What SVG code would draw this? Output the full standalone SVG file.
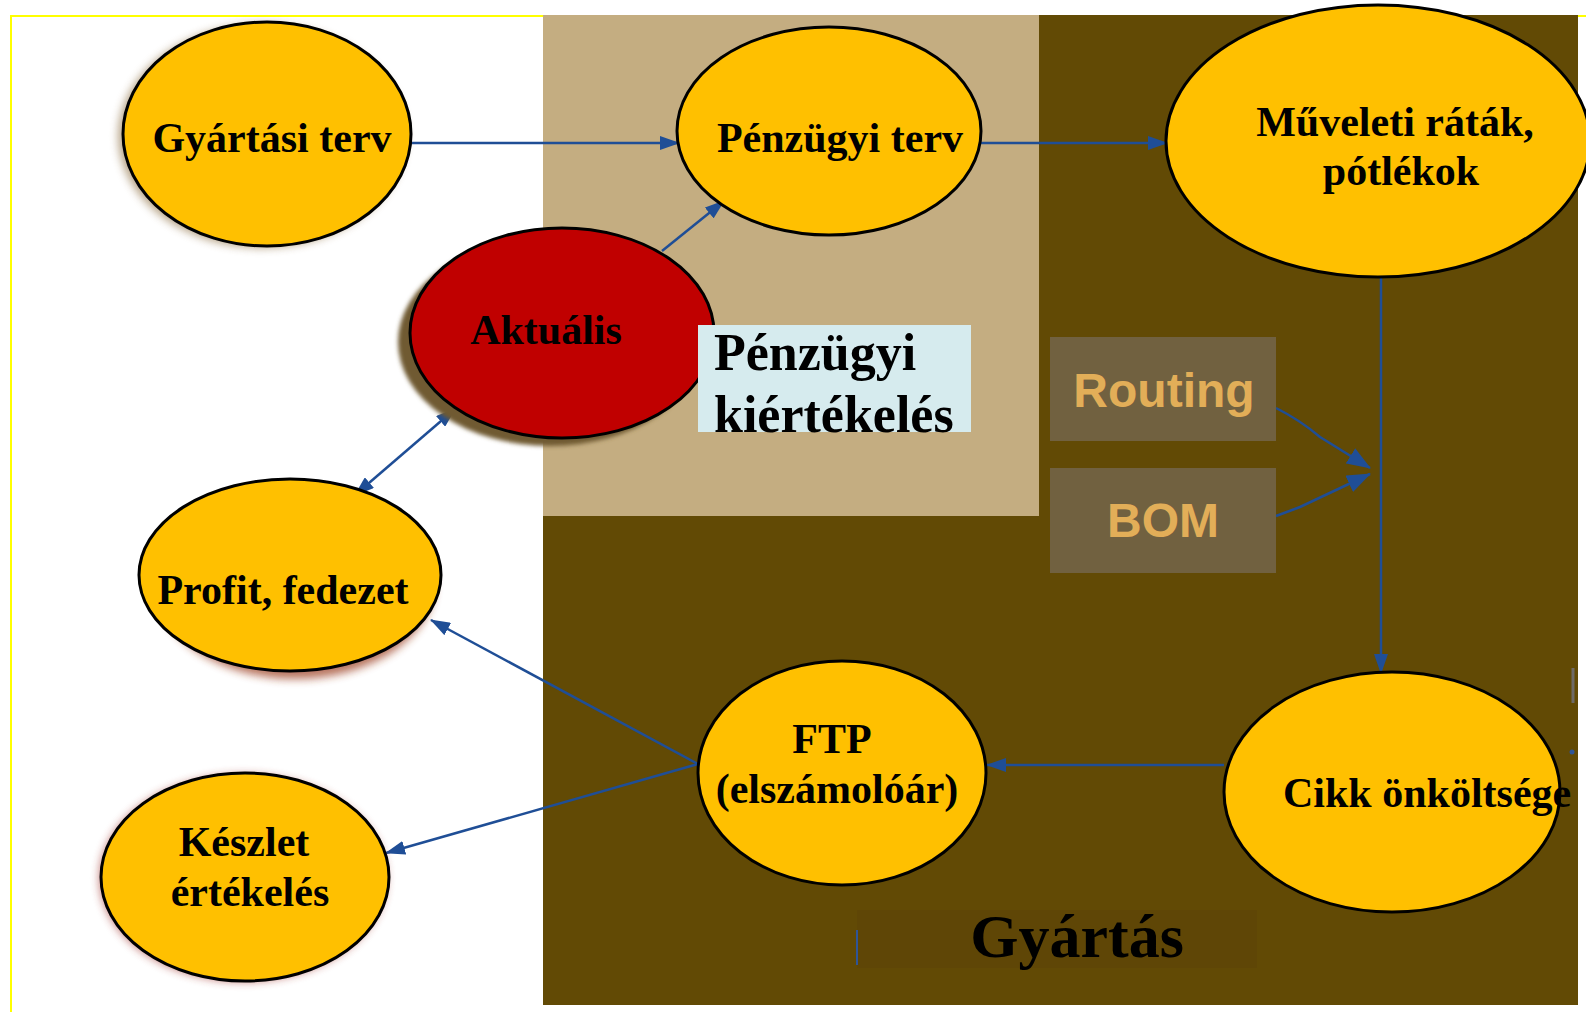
<svg xmlns="http://www.w3.org/2000/svg" width="1586" height="1012" viewBox="0 0 1586 1012">
<style>
.node{fill:#FFC000;stroke:#000;stroke-width:3}
.lbl{font-family:"Liberation Serif","Times New Roman",serif;font-weight:bold;font-size:42px;fill:#000;text-anchor:middle}
.con{fill:none;stroke:#1F4E96;stroke-width:2.5}
.box{fill:#716140}
.boxt{font-family:"Liberation Sans",Arial,sans-serif;font-weight:bold;font-size:48px;fill:#E2AE58;text-anchor:middle}
</style>
<defs>
<marker id="ah" viewBox="0 0 20 14" refX="19" refY="7" markerWidth="20" markerHeight="14" markerUnits="userSpaceOnUse" orient="auto-start-reverse">
<path d="M0,0 L20,7 L0,14 Z" fill="#1F4E96"/>
</marker>
<marker id="ahb" viewBox="0 0 24 18" refX="23" refY="9" markerWidth="24" markerHeight="18" markerUnits="userSpaceOnUse" orient="auto">
<path d="M0,0 L24,9 L0,18 Z" fill="#1F4E96"/>
</marker>
<filter id="blur" x="-20%" y="-20%" width="140%" height="140%"><feGaussianBlur stdDeviation="4"/></filter>
<filter id="blur2" x="-20%" y="-20%" width="140%" height="140%"><feGaussianBlur stdDeviation="2"/></filter>
</defs>
<rect x="0" y="0" width="1586" height="1012" fill="#fff"/>
<rect x="11" y="16" width="1600" height="1020" fill="none" stroke="#FFFF00" stroke-width="2"/>
<g id="background">
<rect x="543" y="15" width="1035" height="990" fill="#624A05"/>
<rect x="543" y="15" width="496" height="501" fill="#C4AD81"/>
<rect x="857" y="910" width="400" height="58" fill="#5F4606"/>
<line x1="857" y1="930" x2="857" y2="965" stroke="#2F5597" stroke-width="2"/>
<line x1="1573" y1="668" x2="1573" y2="703" stroke="#6F6A66" stroke-width="3"/>
<circle cx="1572" cy="752" r="2.5" fill="#2F5597"/>
</g>
<g id="connectors">
<line class="con" x1="411" y1="143" x2="679" y2="143" marker-end="url(#ah)"/>
<line class="con" x1="981" y1="143" x2="1167" y2="143" marker-end="url(#ah)"/>
<line class="con" x1="662" y1="251" x2="724" y2="201" marker-end="url(#ah)"/>
<line class="con" x1="355" y1="495" x2="455" y2="409" marker-start="url(#ah)" marker-end="url(#ah)"/>
<line class="con" x1="698" y1="764" x2="431" y2="620" marker-end="url(#ah)"/>
<line class="con" x1="698" y1="764" x2="386" y2="853" marker-end="url(#ah)"/>
<line class="con" x1="1381" y1="277" x2="1381" y2="673" marker-end="url(#ah)"/>
<line class="con" x1="1224" y1="765" x2="987" y2="765" marker-end="url(#ah)"/>
<path class="con" d="M1276,408 Q1300,420 1320,437 L1370,468" marker-end="url(#ahb)"/>
<path class="con" d="M1276,516 L1300,507 L1370,474" marker-end="url(#ahb)"/>
</g>
<g id="gyartasi-terv">
<ellipse cx="262" cy="136" rx="144" ry="112" fill="#8A6A3A" opacity="0.6" filter="url(#blur)"/>
<ellipse class="node" cx="267" cy="134" rx="144" ry="112"/>
<text class="lbl" x="272" y="152">Gyártási terv</text>
</g>
<g id="penzugyi-terv">
<ellipse class="node" cx="829" cy="131" rx="152" ry="104"/>
<text class="lbl" x="840" y="152">Pénzügyi terv</text>
</g>
<g id="muveleti-ratak">
<ellipse class="node" cx="1378" cy="141" rx="212" ry="136"/>
<text class="lbl" x="1395" y="136">Műveleti ráták,</text>
<text class="lbl" x="1401" y="185">pótlékok</text>
</g>
<g id="aktualis">
<ellipse cx="550" cy="342" rx="152" ry="104" fill="#6F5A32" filter="url(#blur2)"/>
<ellipse cx="562" cy="333" rx="152" ry="105" fill="#C00000" stroke="#000" stroke-width="3"/>
<text class="lbl" x="546" y="344">Aktuális</text>
</g>
<g id="penzugyi-kiertekeles">
<rect x="698" y="325" width="273" height="107" fill="#D6EBEE"/>
<text x="714" y="370" font-family="Liberation Serif,'Times New Roman',serif" font-weight="bold" font-size="52" fill="#000">Pénzügyi</text>
<text x="714" y="432" font-family="Liberation Serif,'Times New Roman',serif" font-weight="bold" font-size="52" fill="#000">kiértékelés</text>
</g>
<g id="routing">
<rect class="box" x="1050" y="337" width="226" height="104"/>
<text class="boxt" x="1164" y="407">Routing</text>
</g>
<g id="bom">
<rect class="box" x="1050" y="468" width="226" height="105"/>
<text class="boxt" x="1163" y="537">BOM</text>
</g>
<g id="profit-fedezet">
<ellipse cx="295" cy="583" rx="140" ry="96" fill="#9A3A1E" opacity="0.7" filter="url(#blur)"/>
<ellipse class="node" cx="290" cy="575" rx="151" ry="96"/>
<text class="lbl" x="283" y="604">Profit, fedezet</text>
</g>
<g id="keszlet-ertekeles">
<ellipse cx="243" cy="878" rx="144" ry="104" fill="#A0302A" opacity="0.6" filter="url(#blur)"/>
<ellipse class="node" cx="245" cy="877" rx="144" ry="104"/>
<text class="lbl" x="244" y="856">Készlet</text>
<text class="lbl" x="250" y="906">értékelés</text>
</g>
<g id="ftp">
<ellipse class="node" cx="842" cy="773" rx="144" ry="112"/>
<text class="lbl" x="832" y="753">FTP</text>
<text class="lbl" x="837" y="803">(elszámolóár)</text>
</g>
<g id="cikk-onkoltsege">
<ellipse class="node" cx="1392" cy="792" rx="168" ry="120"/>
<text class="lbl" x="1283" y="807" style="text-anchor:start">Cikk önköltsége</text>
</g>
<g id="gyartas">
<text x="1077" y="957" font-family="Liberation Serif,'Times New Roman',serif" font-weight="bold" font-size="62" fill="#000" text-anchor="middle">Gyártás</text>
</g>
</svg>
